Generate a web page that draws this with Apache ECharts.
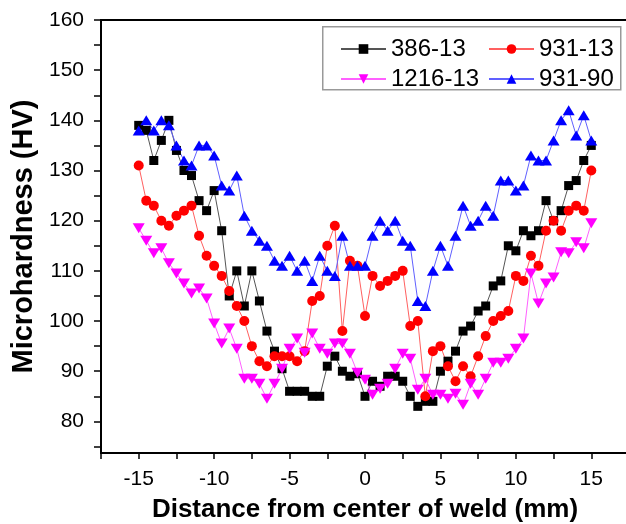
<!DOCTYPE html>
<html>
<head>
<meta charset="utf-8">
<script src="https://cdn.jsdelivr.net/npm/echarts@6/dist/echarts.min.js"></script>
<style>html,body{margin:0;padding:0;background:#fff;overflow:hidden}#c{width:626px;height:524px}</style>
</head>
<body>
<div id="c"></div>
<script>
var distances = [-15,-14.5,-14,-13.5,-13,-12.5,-12,-11.5,-11,-10.5,-10,-9.5,-9,-8.5,-8,-7.5,-7,-6.5,-6,-5.5,-5,-4.5,-4,-3.5,-3,-2.5,-2,-1.5,-1,-0.5,0,0.5,1,1.5,2,2.5,3,3.5,4,4.5,5,5.5,6,6.5,7,7.5,8,8.5,9,9.5,10,10.5,11,11.5,12,12.5,13,13.5,14,14.5,15];
var s386_13 = [139,138,132,136,140,134,130,129,124,122,126,118,105,110,103,110,104,98,94,90.5,86,86,86,85,85,91,93,90,89,89.5,85,88,87,89,89,88,85,83,84,84,90,92,94,98,99,102,103,107,108,115,114,118,117,118,124,120,122,127,128,132,135];
var s931_13 = [131,124,123,120,119,121,122,123,117,113,111,109,106,103,100,95,92,91,93,93,93,92,94,104,105,115,119,98,112,111,101,109,107,108,109,110,99,100,85,94,95,91,88,91,89,93,97,100,101,102,109,108,113,111,118,120,118,122,123,122,130];
var s1216_13 = [118.5,116,113.5,114.5,111.5,109.5,107.5,105.5,106.5,104.5,99.5,95.5,98.5,94.5,88.5,88.5,87.5,84.5,87.5,90.5,94.5,96.5,93.7,97.5,94.5,93.5,95.5,95.5,93.5,89.7,88.3,85.3,86.5,87.5,90.5,93.5,92.5,86.3,88.5,85.3,85.3,84.5,85.5,83.3,87.5,85.3,88.5,91.7,91.7,92.5,94.5,96.5,109.5,103.5,107.5,108.7,113.7,113.5,115.7,114.5,119.5];
var s931_90 = [138,140,138,140,139,135,132,131,135,135,133,127,126,129,121,118,116,115,112,111,113,110,112,108,113,110,109,117,111,111,111,117,120,118,120,116,115,104,103,110,115,111,117,123,119,120,123,121,128,128,126,127,133,132,132,136,140,142,137,141,136];
var seriesNames = ['386-13','931-13','1216-13','931-90'];
var yTickValues = [75,80,85,90,95,100,105,110,115,120,125,130,135,140,145,150,155,160];
var yLabelValues = [80,90,100,110,120,130,140,150,160];

function pairs(vals){ return distances.map(function(x,i){ return [x, vals[i]]; }); }

var FONT = 'Liberation Sans, Arial, sans-serif';
var chart = echarts.init(document.getElementById('c'));
chart.setOption({
  animation: false,
  backgroundColor: '#fff',
  grid: { left: 101, top: 20, width: 528, height: 433, show: true, borderColor: '#000', borderWidth: 2,
          containLabel: false, outerBoundsMode: 'none' },
  xAxis: {
    type: 'value', min: -17.5, max: 17.5, interval: 2.5,
    name: 'Distance from center of weld (mm)', nameLocation: 'middle', nameGap: 44,
    nameTextStyle: { fontFamily: FONT, fontWeight: 'bold', fontSize: 26, color: '#000' },
    axisLine: { onZero: false, lineStyle: { color: '#000', width: 2 } },
    axisTick: { inside: false, length: 6, lineStyle: { color: '#000', width: 1.5 } },
    axisLabel: { fontFamily: FONT, fontSize: 21, color: '#000', margin: 16,
      formatter: function(v){ return (Math.abs(v % 5) < 1e-9) ? String(v) : ''; } },
    splitLine: { show: false }
  },
  yAxis: {
    type: 'value', min: 73.7, max: 160,
    name: 'Microhardness (HV)', nameLocation: 'middle', nameGap: 58,
    nameTextStyle: { fontFamily: FONT, fontWeight: 'bold', fontSize: 29, color: '#000' },
    axisLine: { onZero: false, lineStyle: { color: '#000', width: 2 } },
    axisTick: { inside: false, length: 7, customValues: yTickValues, lineStyle: { color: '#000', width: 1.5 } },
    axisLabel: { fontFamily: FONT, fontSize: 21, color: '#000', margin: 17, customValues: yLabelValues },
    splitLine: { show: false }
  },
  legend: [
    { left: 335, top: 32, orient: 'vertical', itemWidth: 45, itemHeight: 12, itemGap: 6,
      data: ['386-13','1216-13'], textStyle: { fontFamily: FONT, fontSize: 24, color: '#000' } },
    { left: 483, top: 32, orient: 'vertical', itemWidth: 45, itemHeight: 12, itemGap: 6,
      data: ['931-13','931-90'], textStyle: { fontFamily: FONT, fontSize: 24, color: '#000' } }
  ],
  graphic: [
    { type: 'rect', left: 322, top: 26, shape: { width: 298, height: 63 }, style: { fill: '#fff', stroke: '#999', lineWidth: 1.5 }, z: -1 }
  ],
  series: [
    { name: seriesNames[0], type: 'line', data: pairs(s386_13), symbol: 'rect', symbolSize: 9,
      itemStyle: { color: '#000' }, lineStyle: { color: '#555', width: 1 } },
    { name: seriesNames[1], type: 'line', data: pairs(s931_13), symbol: 'circle', symbolSize: 10,
      itemStyle: { color: '#ff0000' }, lineStyle: { color: '#ff6060', width: 1 } },
    { name: seriesNames[2], type: 'line', data: pairs(s1216_13), symbol: 'triangle', symbolRotate: 180, symbolSize: [12, 10],
      itemStyle: { color: '#ff00ff' }, lineStyle: { color: '#ff60ff', width: 1 } },
    { name: seriesNames[3], type: 'line', data: pairs(s931_90), symbol: 'triangle', symbolSize: [12, 10],
      itemStyle: { color: '#0000ff' }, lineStyle: { color: '#6060ff', width: 1 } }
  ]
});
</script>
</body>
</html>
